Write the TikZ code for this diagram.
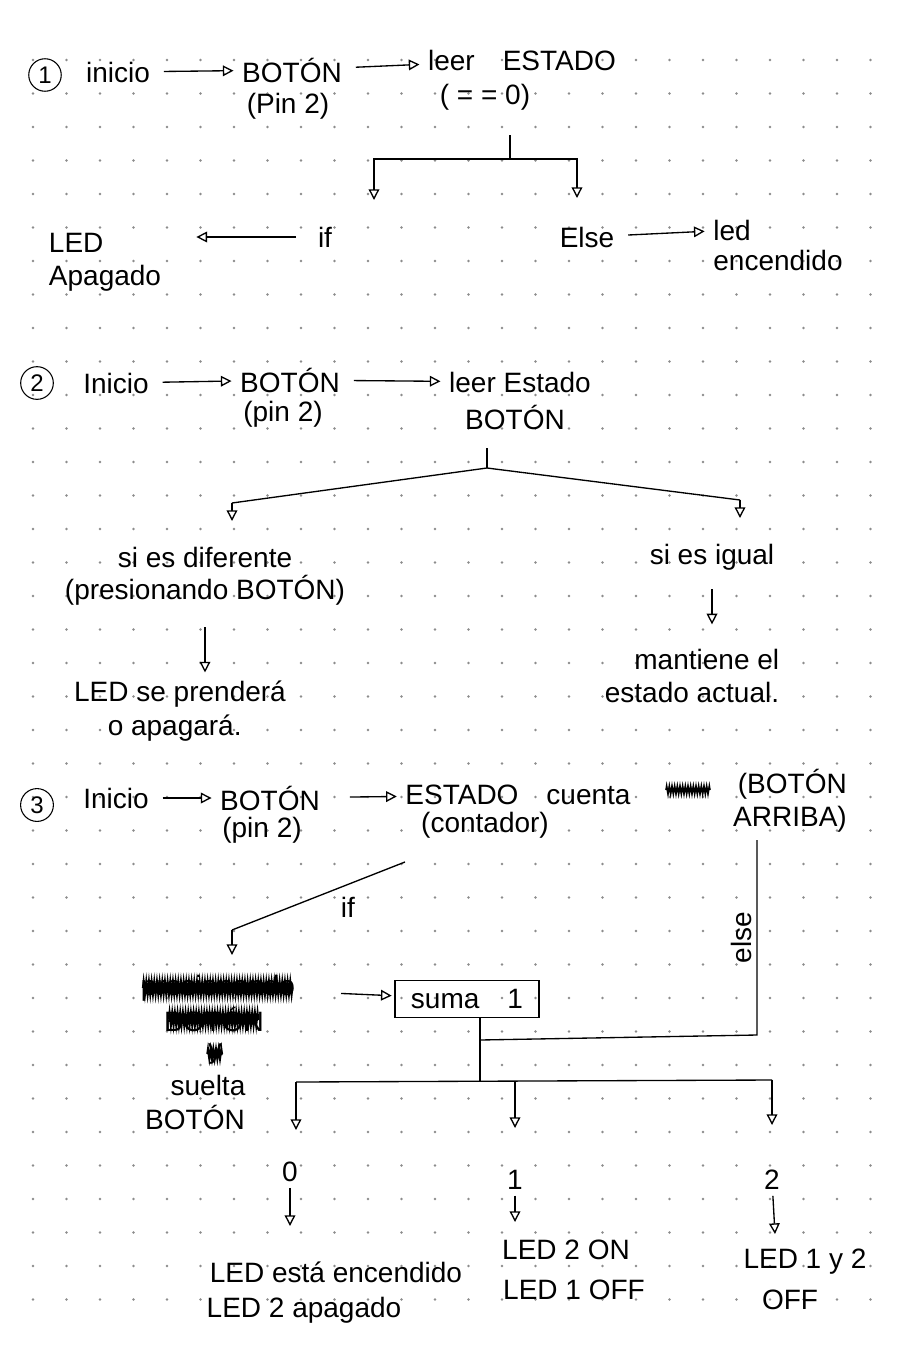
\documentclass[tikz,border=0pt]{standalone}
\usepackage{fontspec}
\setmainfont{Liberation Sans}
\usetikzlibrary{positioning,arrows.meta,decorations.pathmorphing}

\begin{document}
\begin{tikzpicture}[x=0.75pt,y=-0.75pt,>={Triangle[open,length=8pt,width=8pt]},line width=1pt,
  every node/.style={font=\fontsize{21}{25}\selectfont}]
\tikzstyle{txt}=[inner sep=2pt,align=center]
\tikzstyle{num}=[circle,draw,line width=0.8pt,inner sep=3pt,font=\fontsize{18}{20}\selectfont]
\tikzstyle{box}=[draw,inner sep=4pt,minimum width=108pt,minimum height=28pt]
\tikzstyle{fl}=[->,shorten <=8pt,shorten >=4pt]
\tikzstyle{tachado}=[decorate,decoration={zigzag,segment length=2pt,amplitude=4.5pt},line width=1.6pt]

% hoja punteada
\fill[white] (0,0) rectangle (900,1360);
\foreach \i in {0,...,25}
  \foreach \j in {0,...,37}
    \fill[black!45] (33+33.5*\i,60+33.5*\j) circle (1.1pt);

% ---- 1 ----
\node[num] (c1) at (45,75) {1};
\node[txt] (ini1) at (118,72) {inicio};
\node[txt] (bot1) at (292,70) {BOTÓN};
\node[txt] (pin1) at (288,106) {(Pin 2)};
\node[txt] (lee1) at (522,60) {leer\quad ESTADO};
\node[txt] (cmp1) at (485,97) {( = = 0)};
\draw[fl] (ini1) -- (bot1);
\draw[fl] (bot1) -- (lee1);
\coordinate (r1) at (510,135);
\coordinate (r1b) at (510,159);
\coordinate (a1l) at (374,200);
\coordinate (a1r) at (577,198);
\draw (r1) -- (r1b);
\draw[->] (r1b) -| (a1l);
\draw[->] (r1b) -| (a1r);
\node[txt,align=left] (apa1) at (105,262) {LED\\Apagado};
\node[txt] (if1) at (325,237) {if};
\node[txt] (els1) at (587,237) {Else};
\node[txt] (led1) at (732,230) {led};
\node[txt] (enc1) at (778,260) {encendido};
\draw[fl,shorten <=14pt,shorten >=24pt] (if1) -- (if1 -| apa1.east);
\draw[fl] (els1) -- (led1);

% ---- 2 ----
\node[num] (c2) at (37,383) {2};
\node[txt] (ini2) at (116,383) {Inicio};
\node[txt] (bot2) at (290,380) {BOTÓN};
\node[txt] (pin2) at (283,414) {(pin 2)};
\node[txt] (lee2) at (520,382) {leer Estado};
\node[txt] (bot2b) at (515,417) {BOTÓN};
\draw[fl] (ini2) -- (bot2);
\draw[fl] (bot2) -- (lee2);
\coordinate (r2) at (487,448);
\coordinate (r2b) at (487,468);
\coordinate (r2l) at (232,503);
\coordinate (r2r) at (740,500);
\draw (r2) -- (r2b);
\draw (r2l) -- (r2b) -- (r2r);
\draw[->] (r2l) -- ++(0,18);
\draw[->] (r2r) -- ++(0,18);
\node[txt] (dif2) at (205,557) {si es diferente};
\node[txt] (pre2) at (205,590) {(presionando BOTÓN)};
\node[txt,align=left] (pren2) at (180,711) {LED se prenderá\\\hspace*{1.2em}o apagará.};
\draw[fl,shorten <=14pt] (pre2) -- (pre2 |- pren2.north);
\node[txt] (igu2) at (712,557) {si es igual};
\node[txt,align=right] (man2) at (692,676) {mantiene el\\estado actual.};
\draw[fl,shorten <=12pt,shorten >=16pt] (igu2) -- (igu2 |- man2.north);

% ---- 3 ----
\node[num] (c3) at (37,805) {3};
\node[txt] (ini3) at (116,798) {Inicio};
\node[txt] (bot3) at (270,798) {BOTÓN};
\node[txt] (pin3) at (262,830) {(pin 2)};
\node[txt] (est3) at (518,795) {ESTADO\quad cuenta};
\node[txt] (con3) at (485,825) {(contador)};
\node[txt,align=right] (arr3) at (790,801) {(BOTÓN\\ARRIBA)};
\draw[fl] (ini3) -- (bot3);
\draw[fl,shorten <=20pt] (bot3) -- (est3);
\draw[tachado,line width=1.2pt,decoration={amplitude=3pt,segment length=2pt}] (666,790) -- (710,790);
\coordinate (d1) at (405,862);
\coordinate (d2) at (232,930);
\draw (d1) -- node[below right=2pt and 0pt,pos=0.4] (if3) {if} (d2);
\draw[->] (d2) -- ++(0,25);
\node[txt] (pres3) at (218,988) {presionando};
\node[txt,inner sep=0pt] (botx3) at (214,1019) {BOTÓN};
\node[txt,inner sep=0pt] (y3) at (215,1054) {y};
\draw[tachado] ([xshift=4pt]pres3.west) -- ([xshift=-4pt]pres3.east);
\draw[tachado] ([xshift=4pt]botx3.west) -- ([xshift=-4pt]botx3.east);
\draw[tachado,decoration={amplitude=3.5pt}] (y3.west) -- (y3.east);
\node[txt] (sue3) at (208,1085) {suelta};
\node[txt] (botb3) at (195,1117) {BOTÓN};
\node[box] (suma) at (467,999) {suma\quad 1};
\draw[fl,shorten <=32pt,shorten >=2pt] (pres3) -- (suma);
% else
\coordinate (e1) at (757,840);
\coordinate (e2) at (757,1035);
\coordinate (j1) at (480,1040);
\coordinate (j2) at (480,1082);
\draw (e1) -- node[left,rotate=90,anchor=south] (els3) {else} (e2) -- (j1);
\draw (suma.south -| j2) -- (j2);
\coordinate (h0) at (296,1082);
\coordinate (h1) at (515,1082);
\coordinate (h2) at (772,1080);
\draw (h0) -- (h2);
\draw[->] (h0) -- ++(0,48);
\draw[->] (h1) -- ++(0,46);
\draw[->] (h2) -- ++(0,45);
\node[txt] (n0) at (290,1172) {0};
\node[txt] (n1) at (515,1180) {1};
\node[txt] (n2) at (772,1180) {2};
\coordinate (a0) at (290,1226);
\coordinate (a1) at (515,1222);
\coordinate (a2) at (775,1234);
\draw[->,shorten <=2pt] (n0) -- (a0);
\draw[->,shorten <=2pt] (n1) -- (a1);
\draw[->,shorten <=2pt] (n2) -- (a2);
\node[txt] (t0a) at (336,1272) {LED está encendido};
\node[txt] (t0b) at (304,1310) {LED 2 apagado};
\node[txt] (t1a) at (566,1250) {LED 2 ON};
\node[txt] (t1b) at (574,1290) {LED 1 OFF};
\node[txt] (t2a) at (805,1262) {LED 1 y 2};
\node[txt] (t2b) at (790,1300) {OFF};
\end{tikzpicture}
\end{document}
